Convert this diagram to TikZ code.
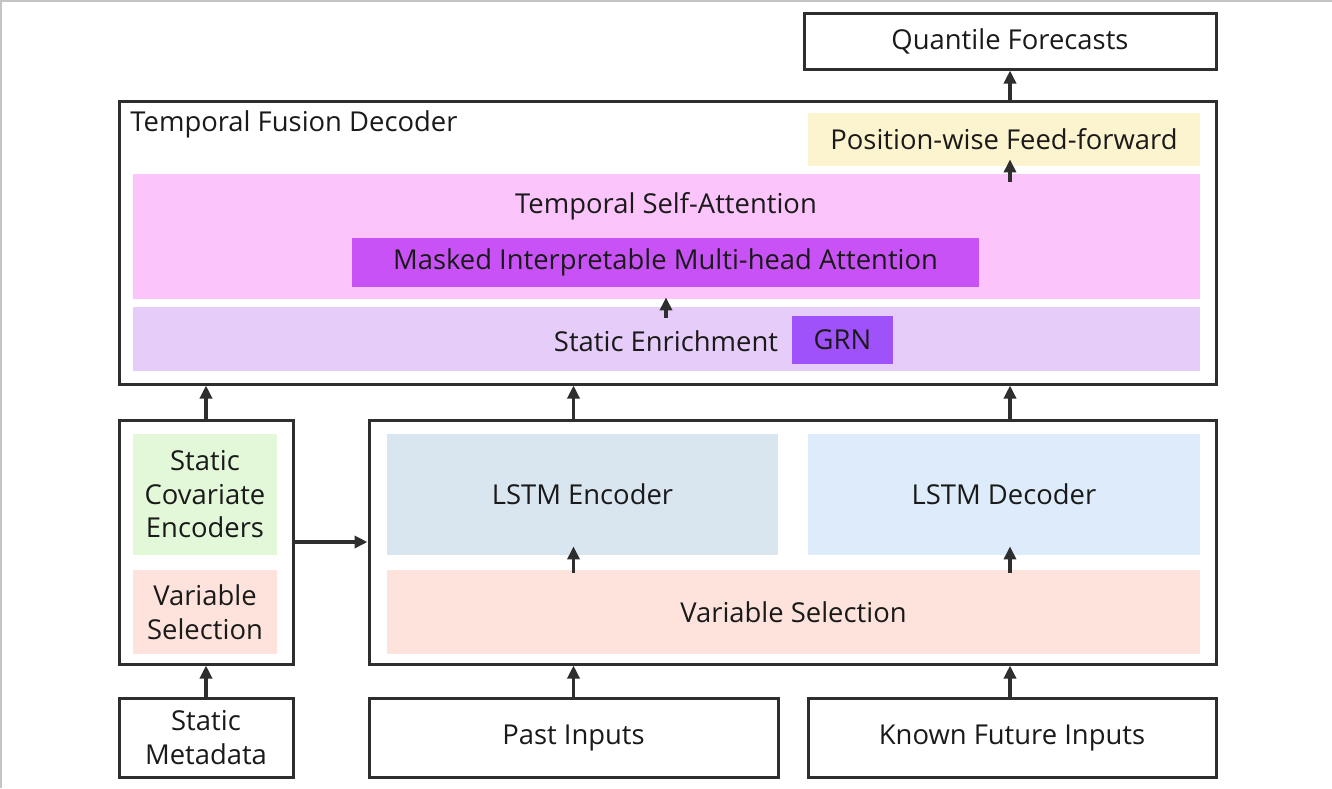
\documentclass[tikz,border=0pt]{standalone}
\usepackage{fontspec}
\setmainfont{Open Sans}
\usetikzlibrary{arrows.meta,calc}

\definecolor{edge}{HTML}{2E2E2E}
\definecolor{ink}{HTML}{1A1A1A}
\definecolor{framegray}{HTML}{C4C4C4}
\definecolor{tsapink}{HTML}{FBC4FB}
\definecolor{mhpurple}{HTML}{C952F6}
\definecolor{selav}{HTML}{E6CCF8}
\definecolor{grnpurple}{HTML}{A052FA}
\definecolor{ffyellow}{HTML}{FCF3CF}
\definecolor{scegreen}{HTML}{E2F8D8}
\definecolor{vssalmon}{HTML}{FDE3DC}
\definecolor{encblue}{HTML}{D9E6F0}
\definecolor{decblue}{HTML}{DDEBFA}

\begin{document}
\begin{tikzpicture}[x=0.5pt,y=-0.5pt,
  font=\fontsize{13.7}{16.75}\selectfont,text=ink,
  blk/.style 2 args={minimum width=#1*0.5pt,minimum height=#2*0.5pt},
  outer/.style={draw=edge,line width=1.5pt,fill=white,inner sep=0pt,align=center},
  panel/.style={inner sep=0pt,align=center},
  up/.style={-{Triangle[length=6.5pt,width=6pt]},line width=1.7pt,draw=edge}]

  \useasboundingbox (0,0) rectangle (1332,788);
  \fill[white] (0,0) rectangle (1332,788);
  \fill[framegray] (0,0) rectangle (1332,2);
  \fill[framegray] (0,0) rectangle (2,788);

  \node (QF) at (1010,41) [outer,blk={412}{56}] {Quantile Forecasts};

  \node (TFD) at (667.5,242.5) [outer,blk={1097}{283}] {};
  \node (TFDL) at (130,124) [anchor=west,inner sep=0pt] {Temporal Fusion Decoder};
  \node (PFF) at (1004,139.5) [panel,fill=ffyellow,blk={392}{53}] {Position-wise Feed-forward};
  \node (TSA) at (666.5,236.5) [panel,fill=tsapink,blk={1067}{125}] {};
  \node (TSAL) at (666,206) {Temporal Self-Attention};
  \node (MIMHA) at (665.5,262.5) [panel,fill=mhpurple,blk={627}{49}] {Masked Interpretable Multi-head Attention};
  \node (SE) at (666.5,339) [panel,fill=selav,blk={1067}{64}] {};
  \node (SEL) at (666,341) {Static Enrichment};
  \node (GRN) at (842.5,340) [panel,fill=grnpurple,blk={101}{48}] {GRN};

  \node (LB) at (206,542) [outer,blk={174}{244}] {};
  \node (SCE) at (205,494.5) [panel,fill=scegreen,blk={144}{121}] {Static\\Covariate\\Encoders};
  \node (VSL) at (205,612) [panel,fill=vssalmon,blk={144}{84}] {Variable\\Selection};

  \node (RB) at (792.5,542) [outer,blk={847}{244}] {};
  \node (ENC) at (582.5,494.5) [panel,fill=encblue,blk={391}{121}] {LSTM Encoder};
  \node (DEC) at (1004,494.5) [panel,fill=decblue,blk={392}{121}] {LSTM Decoder};
  \node (VSR) at (793.5,612) [panel,fill=vssalmon,blk={813}{84}] {Variable Selection};

  \node (SM) at (206,737.5) [outer,blk={174}{79}] {Static\\Metadata};
  \node (PI) at (573.5,737.5) [outer,blk={409}{79}] {Past Inputs};
  \node (KFI) at (1012,737.5) [outer,blk={408}{79}] {Known Future Inputs};

  % inputs into the encoders
  \draw[up] (SM.north) -- (LB.south);
  \draw[up] (PI.north) -- (PI.north |- RB.south);
  \draw[up] (KFI.north -| QF.south) -- (QF.south |- RB.south);
  \draw[up] (LB.east) -- (RB.west);

  % inner arrows
  \draw[up] ($(PI.north |- VSR.north)+(0,3)$) -- ($(PI.north |- ENC.south)+(0,-9)$);
  \draw[up] ($(QF.south |- VSR.north)+(0,3)$) -- ($(QF.south |- DEC.south)+(0,-9)$);
  \draw[up] ($(TSAL |- SE.north)+(0,11)$) -- ($(TSAL |- MIMHA.south)+(0,10)$);
  \draw[up] ($(QF.south |- TSA.north)+(0,8)$) -- ($(QF.south |- PFF.south)+(0,-7)$);

  % into the decoder and out
  \draw[up] (LB.north) -- (LB.north |- TFD.south);
  \draw[up] (PI.north |- RB.north) -- (PI.north |- TFD.south);
  \draw[up] (QF.south |- RB.north) -- (QF.south |- TFD.south);
  \draw[up] (QF.south |- TFD.north) -- (QF.south);

\end{tikzpicture}
\end{document}
